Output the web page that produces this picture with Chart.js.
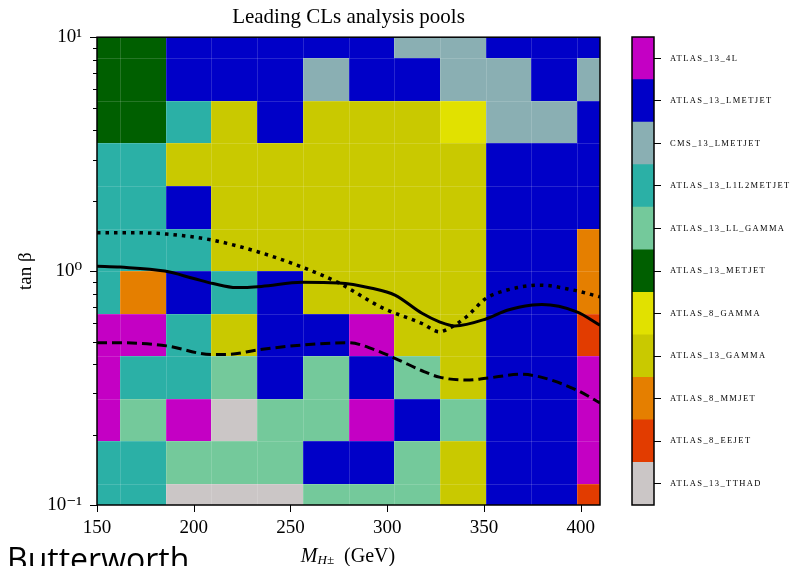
<!DOCTYPE html>
<html>
<head>
<meta charset="utf-8">
<script src="https://cdn.jsdelivr.net/npm/chart.js@4.4.1/dist/chart.umd.min.js"></script>
<style>
    html, body { margin: 0; padding: 0; background: #fff; overflow: hidden; }
    #wrap { position: relative; width: 792px; height: 566px; overflow: hidden; }
    canvas { position: absolute; top: 0; }
    #main { left: 0; }
    #cbar { left: 620px; }
    #xlabel { position: absolute; left: 248px; width: 200px; top: 545px; text-align: center;
              font: 20px "Liberation Serif", serif; line-height: 20px; color: #000; white-space: nowrap; }
    #xlabel sub { font-size: 13px; font-style: italic; line-height: 0; vertical-align: -2px; }
    #credit { position: absolute; left: 7px; top: 539px; font: 32px "Open Sans", "Liberation Sans", sans-serif;
              line-height: 40px; color: #000; white-space: nowrap; }
</style>
</head>
<body>
<div id="wrap">
    <canvas id="main" width="792" height="566"></canvas>
    <canvas id="cbar" width="172" height="566"></canvas>
    <div id="xlabel"><i>M</i><sub>H±</sub>&nbsp;&nbsp;(GeV)</div>
    <div id="credit">Butterworth</div>
</div>
<script>
// grid points of the scan
const massPoints = [150, 173.6, 197.3, 220.9, 244.5, 268.2, 291.8, 315.5, 339.1, 362.7, 386.4, 410];
const tanbPoints = [0.1, 0.152, 0.231, 0.351, 0.534, 0.811, 1.23, 1.87, 2.85, 4.33, 6.58, 10];

// analysis pools, colorbar order from top to bottom
const pools = [
    "ATLAS_13_4L", "ATLAS_13_LMETJET", "CMS_13_LMETJET", "ATLAS_13_L1L2METJET",
    "ATLAS_13_LL_GAMMA", "ATLAS_13_METJET", "ATLAS_8_GAMMA", "ATLAS_13_GAMMA",
    "ATLAS_8_MMJET", "ATLAS_8_EEJET", "ATLAS_13_TTHAD",
];
const poolColors = [
    "#c400c4", "#0000c8", "#8aafb3", "#2bb0a6",
    "#74c99b", "#005f00", "#e1e100", "#c9c900",
    "#e57f00", "#e23c00", "#cbc6c6",
];

// leading pool index per cell, rows from tan b = 10 (top) down to tan b = 0.1
const leadingPool = [
    [5, 5, 1, 1, 1, 1, 1, 2, 2, 1, 1, 1],
    [5, 5, 1, 1, 1, 2, 1, 1, 2, 2, 1, 2],
    [5, 5, 3, 7, 1, 7, 7, 7, 6, 2, 2, 1],
    [3, 3, 7, 7, 7, 7, 7, 7, 7, 1, 1, 1],
    [3, 3, 1, 7, 7, 7, 7, 7, 7, 1, 1, 1],
    [3, 3, 3, 7, 7, 7, 7, 7, 7, 1, 1, 8],
    [3, 8, 1, 3, 1, 7, 7, 7, 7, 1, 1, 8],
    [0, 0, 3, 7, 1, 1, 0, 7, 7, 1, 1, 9],
    [0, 3, 3, 4, 1, 4, 1, 4, 7, 1, 1, 0],
    [0, 4, 0, 10, 4, 4, 0, 1, 4, 1, 1, 0],
    [3, 3, 4, 4, 4, 1, 1, 4, 7, 1, 1, 0],
    [3, 3, 10, 10, 10, 4, 4, 4, 7, 1, 1, 9],
];

// contour lines
const solidMass = [150, 162, 185, 200, 210, 222, 235, 256, 275, 292, 304, 318, 327, 335, 351, 362, 375, 380, 398, 410];
const solidTanb = [1.05, 1.04, 1.0, 0.93, 0.885, 0.85, 0.86, 0.895, 0.89, 0.845, 0.79, 0.66, 0.607, 0.583, 0.624, 0.68, 0.716, 0.72, 0.67, 0.587];
const dottedMass = [150, 170, 186, 209, 233, 256, 275, 297, 318, 327, 332, 341, 351, 362, 379, 396, 410];
const dottedTanb = [1.46, 1.46, 1.44, 1.36, 1.21, 1.04, 0.89, 0.70, 0.597, 0.55, 0.569, 0.638, 0.764, 0.83, 0.871, 0.83, 0.776];
const dashedMass = [150, 162, 186, 209, 217, 233, 256, 280, 293, 304, 319, 327, 341, 351, 369, 379, 398, 410];
const dashedTanb = [0.494, 0.494, 0.479, 0.44, 0.44, 0.46, 0.483, 0.494, 0.463, 0.424, 0.372, 0.352, 0.342, 0.348, 0.362, 0.353, 0.31, 0.273];

// axis ticks
const xTicks = [150, 200, 250, 300, 350, 400];
const yTicks = [0.1, 0.2, 0.3, 0.4, 0.5, 0.6, 0.7, 0.8, 0.9, 1, 2, 3, 4, 5, 6, 7, 8, 9, 10];
const yMajor = [0.1, 1, 10];
const yMajorLabels = ["10\u207B\u00B9", "10\u2070", "10\u00B9"];

const SERIF = '"Liberation Serif", "DejaVu Serif", serif';

function edges(v, log) {
    const f = log ? Math.log10 : (t) => t;
    const g = log ? (t) => Math.pow(10, t) : (t) => t;
    const n = v.length;
    const out = [];
    out.push(g(f(v[0]) - (f(v[1]) - f(v[0])) / 2));
    for (let i = 1; i < n; i++) out.push(g((f(v[i - 1]) + f(v[i])) / 2));
    out.push(g(f(v[n - 1]) + (f(v[n - 1]) - f(v[n - 2])) / 2));
    return out;
}

const cellsPlugin = {
    id: "cells",
    beforeDatasetsDraw(chart) {
        const { ctx, chartArea: a, scales: { x, y } } = chart;
        const xe = edges(massPoints, false);
        const ye = edges(tanbPoints, true);
        const nRows = tanbPoints.length;
        ctx.save();
        ctx.beginPath();
        ctx.rect(a.left, a.top, a.width, a.height);
        ctx.clip();
        leadingPool.forEach((row, r) => {
            const j = nRows - 1 - r;
            const y0 = Math.round(y.getPixelForValue(ye[j]));
            const y1 = Math.round(y.getPixelForValue(ye[j + 1]));
            row.forEach((p, i) => {
                const x0 = Math.round(x.getPixelForValue(xe[i]));
                const x1 = Math.round(x.getPixelForValue(xe[i + 1]));
                ctx.fillStyle = poolColors[p];
                ctx.fillRect(x0, y1, x1 - x0, y0 - y1);
            });
        });
        // faint cell edges
        ctx.strokeStyle = "rgba(255,255,255,0.15)";
        ctx.lineWidth = 1;
        ctx.beginPath();
        xe.slice(1, -1).forEach((v) => {
            const px = Math.round(x.getPixelForValue(v)) + 0.5;
            ctx.moveTo(px, a.top);
            ctx.lineTo(px, a.bottom);
        });
        ye.slice(1, -1).forEach((v) => {
            const py = Math.round(y.getPixelForValue(v)) + 0.5;
            ctx.moveTo(a.left, py);
            ctx.lineTo(a.right, py);
        });
        ctx.stroke();
        ctx.restore();
    },
};

const framePlugin = {
    id: "frame",
    afterDraw(chart) {
        const { ctx, chartArea: a, scales } = chart;
        ctx.save();
        ctx.strokeStyle = "#000";
        ctx.lineWidth = 1;
        ctx.beginPath();
        if (scales.x && scales.x.options.display !== false) {
            scales.x.ticks.forEach((t) => {
                const px = Math.round(scales.x.getPixelForValue(t.value)) + 0.5;
                ctx.moveTo(px, a.bottom);
                ctx.lineTo(px, a.bottom + 7);
            });
        }
        if (scales.y && scales.y.options.position === "left") {
            scales.y.ticks.forEach((t) => {
                const py = Math.round(scales.y.getPixelForValue(t.value)) + 0.5;
                const len = t.major ? 7 : 4;
                ctx.moveTo(a.left, py);
                ctx.lineTo(a.left - len, py);
            });
        }
        ctx.stroke();
        ctx.lineWidth = 1.5;
        ctx.strokeRect(a.left, a.top, a.right - a.left, a.bottom - a.top);
        ctx.restore();
    },
};

const line = (mass, tanb, extra) => Object.assign({
    data: mass.map((m, i) => ({ x: m, y: tanb[i] })),
    borderColor: "#000",
    borderWidth: 3,
    pointRadius: 0,
    fill: false,
    cubicInterpolationMode: "monotone",
}, extra);

new Chart(document.getElementById("main"), {
    type: "line",
    data: {
        datasets: [
            line(solidMass, solidTanb, { label: "solid" }),
            line(dottedMass, dottedTanb, { label: "dotted", borderWidth: 3.5, borderDash: [3.5, 5] }),
            line(dashedMass, dashedTanb, { label: "dashed", borderDash: [10, 5] }),
        ],
    },
    options: {
        responsive: false,
        animation: false,
        layout: { padding: { left: 0, right: 192, top: 0, bottom: 0 } },
        plugins: {
            legend: { display: false },
            tooltip: { enabled: false },
            title: {
                display: true,
                text: "Leading CLs analysis pools",
                fullSize: false,
                color: "#000",
                font: { family: SERIF, size: 21, weight: "normal" },
                padding: { top: 5, bottom: 7 },
            },
        },
        scales: {
            x: {
                type: "linear",
                min: 150,
                max: 410,
                afterBuildTicks: (s) => { s.ticks = xTicks.map((v) => ({ value: v })); },
                afterFit: (s) => { s.height = 61; },
                grid: { drawOnChartArea: false, color: "transparent", tickLength: 7 },
                border: { display: false },
                ticks: {
                    autoSkip: false,
                    maxRotation: 0,
                    padding: 5,
                    color: "#000",
                    font: { family: SERIF, size: 19 },
                    callback: (v) => String(v),
                },
            },
            y: {
                type: "logarithmic",
                min: 0.1,
                max: 10,
                afterBuildTicks: (s) => {
                    s.ticks = yTicks.map((v) => ({ value: v, major: yMajor.includes(v) }));
                },
                afterFit: (s) => { s.width = 97; },
                grid: { drawOnChartArea: false, color: "transparent", tickLength: 7 },
                border: { display: false },
                title: {
                    display: true,
                    text: "tan \u03B2",
                    color: "#000",
                    font: { family: SERIF, size: 19 },
                    padding: { top: 15, bottom: 0 },
                },
                ticks: {
                    autoSkip: false,
                    padding: 8,
                    color: "#000",
                    font: { family: SERIF, size: 19 },
                    callback: (v) => {
                        const k = yMajor.indexOf(v);
                        return k >= 0 ? yMajorLabels[k] : "";
                    },
                },
            },
        },
    },
    plugins: [cellsPlugin, framePlugin],
});

// colorbar
const spacingPlugin = {
    id: "spacing",
    beforeDraw(chart) { chart.ctx.letterSpacing = "1.4px"; },
};

new Chart(document.getElementById("cbar"), {
    type: "bar",
    data: {
        labels: [""],
        datasets: pools.slice().reverse().map((p, i) => ({
            label: p,
            data: [1],
            backgroundColor: poolColors[pools.length - 1 - i],
            borderWidth: 0,
            barPercentage: 1,
            categoryPercentage: 1,
        })),
    },
    options: {
        responsive: false,
        animation: false,
        layout: { padding: { left: 12, right: 0, top: 37, bottom: 61 } },
        plugins: { legend: { display: false }, tooltip: { enabled: false } },
        scales: {
            x: { display: false, stacked: true },
            y: {
                stacked: true,
                position: "right",
                min: 0,
                max: pools.length,
                afterBuildTicks: (s) => {
                    s.ticks = pools.map((p, i) => ({ value: pools.length - i - 0.5 }));
                },
                afterFit: (s) => { s.width = 138; },
                grid: { drawOnChartArea: false, color: "#000", tickLength: 7 },
                border: { display: false },
                ticks: {
                    autoSkip: false,
                    padding: 9,
                    color: "#000",
                    font: { family: SERIF, size: 8.5 },
                    callback: (v) => pools[Math.round(pools.length - 0.5 - v)],
                },
            },
        },
    },
    plugins: [spacingPlugin, framePlugin],
});
</script>
</body>
</html>
